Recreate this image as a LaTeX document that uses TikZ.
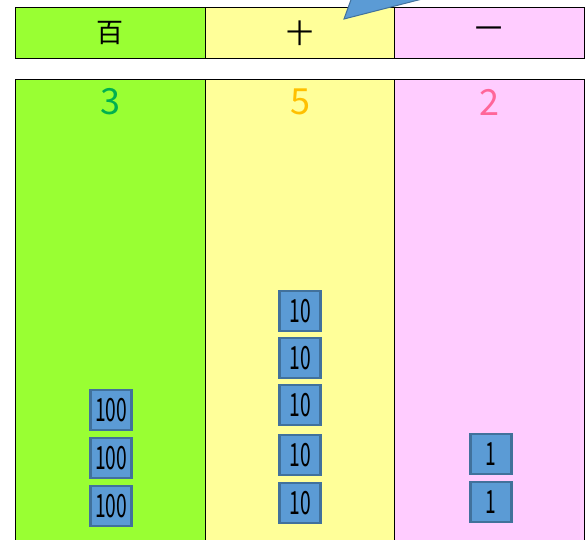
\documentclass[tikz,border=0pt]{standalone}
\usepackage{fontspec}
\setmainfont{Noto Sans CJK JP}
\usepackage{graphicx}
\definecolor{placegreen}{HTML}{99FF33}
\definecolor{placeyellow}{HTML}{FFFF99}
\definecolor{placepink}{HTML}{FFCCFF}
\definecolor{digitgreen}{HTML}{00B050}
\definecolor{digitorange}{HTML}{FFC000}
\definecolor{digitpink}{HTML}{FF6699}
\definecolor{blockfill}{HTML}{5B9BD5}
\definecolor{blockedge}{HTML}{41719C}

\begin{document}
\begin{tikzpicture}[x=1pt,y=-1pt,
  cell/.style={draw=black, line width=0.8pt},
  head/.style={font=\fontsize{27}{27}\selectfont},
  digit/.style={font=\fontsize{36}{36}\selectfont},
  block/.style={draw=blockedge, fill=blockfill, line width=2.2pt,
    minimum width=41pt, minimum height=40pt, inner sep=0pt,
    font=\fontsize{32}{32}\selectfont}]
  \clip (0,0) rectangle (585,539);
  % header row
  \filldraw[cell, fill=placegreen] (15,7) rectangle (205,58);
  \filldraw[cell, fill=placeyellow] (205,7) rectangle (394,58);
  \filldraw[cell, fill=placepink] (394,7) rectangle (584,58);
  \node[head] (hyaku) at (110,33) {百};
  \node[head] (juu) at (300,33) {十};
  \node[head] (ichi) at (489,33) {一};
  % callout tail
  \filldraw[fill=blockfill, draw=blockedge, line width=1pt]
    (344,19) -- (352,-3) -- (430,-3) -- cycle;
  % lower table
  \filldraw[cell, fill=placegreen] (15,79) rectangle (205,550);
  \filldraw[cell, fill=placeyellow] (205,79) rectangle (394,550);
  \filldraw[cell, fill=placepink] (394,79) rectangle (584,550);
  \node[digit, text=digitgreen] (d3) at (110,102) {3};
  \node[digit, text=digitorange] (d5) at (300,102) {5};
  \node[digit, text=digitpink] (d2) at (489,102) {2};
  % blocks
  \foreach \y [count=\i] in {410,458,506}
    \node[block] (h\i) at (111,\y) {\scalebox{.6}[1]{100}};
  \foreach \y [count=\i] in {311,358,405,455,503}
    \node[block] (t\i) at (300,\y) {\scalebox{.6}[1]{10}};
  \foreach \y [count=\i] in {454,502}
    \node[block] (o\i) at (491,\y) {\scalebox{.6}[1]{1}};
\end{tikzpicture}
\end{document}
